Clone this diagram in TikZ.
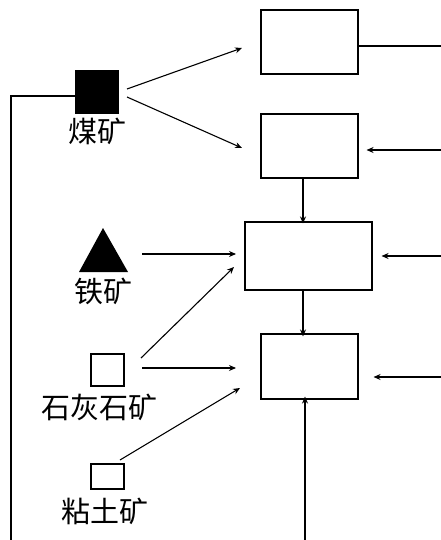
\documentclass[tikz,border=0pt]{standalone}
\usepackage{fontspec}
\newfontfamily\cjk{Noto Sans CJK SC}
\usetikzlibrary{arrows.meta}
\begin{document}
\begin{tikzpicture}[x=1pt,y=-1pt,line width=1.1pt,
  box/.style={draw,rectangle,inner sep=0pt},
  lbl/.style={font=\cjk\fontsize{29}{29}\selectfont,inner sep=0pt},
  arr/.style={-{Stealth[length=7pt,width=6pt]}}]
\useasboundingbox (0,0) rectangle (441,540);
% boxes
\node[box,minimum width=97pt,minimum height=64pt] (b1) at (309.5,42) {};
\node[box,minimum width=97pt,minimum height=64pt] (b2) at (309.5,146) {};
\node[box,minimum width=127pt,minimum height=68pt] (b3) at (308.5,256) {};
\node[box,minimum width=97pt,minimum height=65pt] (b4) at (309.5,366.5) {};
% sources
\node[box,fill=black,minimum width=42pt,minimum height=42pt] (coal) at (97,92) {};
\node[lbl] (coall) at (97,131) {煤矿};
\fill (103,228) coordinate (ironA) -- (128,272) coordinate (ironB) -- (79,272) coordinate (ironC) -- cycle;
\node[lbl] (ironl) at (103,291) {铁矿};
\node[box,minimum width=33pt,minimum height=32pt] (lime) at (107.5,370) {};
\node[lbl] (limel) at (99,407) {石灰石矿};
\node[box,minimum width=33pt,minimum height=25pt] (clay) at (107.5,476.5) {};
\node[lbl] (clayl) at (105,511) {粘土矿};
% coordinates
\coordinate (c1s) at (127,89);
\coordinate (c1e) at (242,48);
\coordinate (c2s) at (127,97);
\coordinate (c2e) at (242,148);
\coordinate (is) at (142,254);
\coordinate (ie) at (236,254);
\coordinate (l1s) at (141,358);
\coordinate (l1e) at (234,267);
\coordinate (l2s) at (142,368);
\coordinate (l2e) at (236,368);
\coordinate (cls) at (120,460);
\coordinate (cle) at (240,388);
\coordinate (r1) at (441,46);
\coordinate (r2) at (441,150);
\coordinate (r3) at (441,256);
\coordinate (r4) at (441,377);
\coordinate (bt) at (305,540);
\coordinate (lb) at (11,540);
% connectors
\draw[arr] (c1s) -- (c1e);
\draw[arr] (c2s) -- (c2e);
\draw[arr] (is) -- (ie);
\draw[arr] (l1s) -- (l1e);
\draw[arr] (l2s) -- (l2e);
\draw[arr] (cls) -- (cle);
\draw (b1.east |- r1) -- (r1);
\draw[arr] (r2) -- ([xshift=8pt]b2.east |- r2);
\draw[arr] (r3) -- ([xshift=9pt]b3.east |- r3);
\draw[arr] (r4) -- ([xshift=15pt]b4.east |- r4);
\draw[arr] (b2.south -| 303,0) -- ([yshift=-2pt]b3.north -| 303,0);
\draw[arr] (b3.south -| 303,0) -- ([yshift=-3pt]b4.north -| 303,0);
\draw[arr] (bt) -- ([yshift=3pt]b4.south -| bt);
\draw (coal.west |- 0,96) -- (11,96) -- (lb);
\end{tikzpicture}
\end{document}
